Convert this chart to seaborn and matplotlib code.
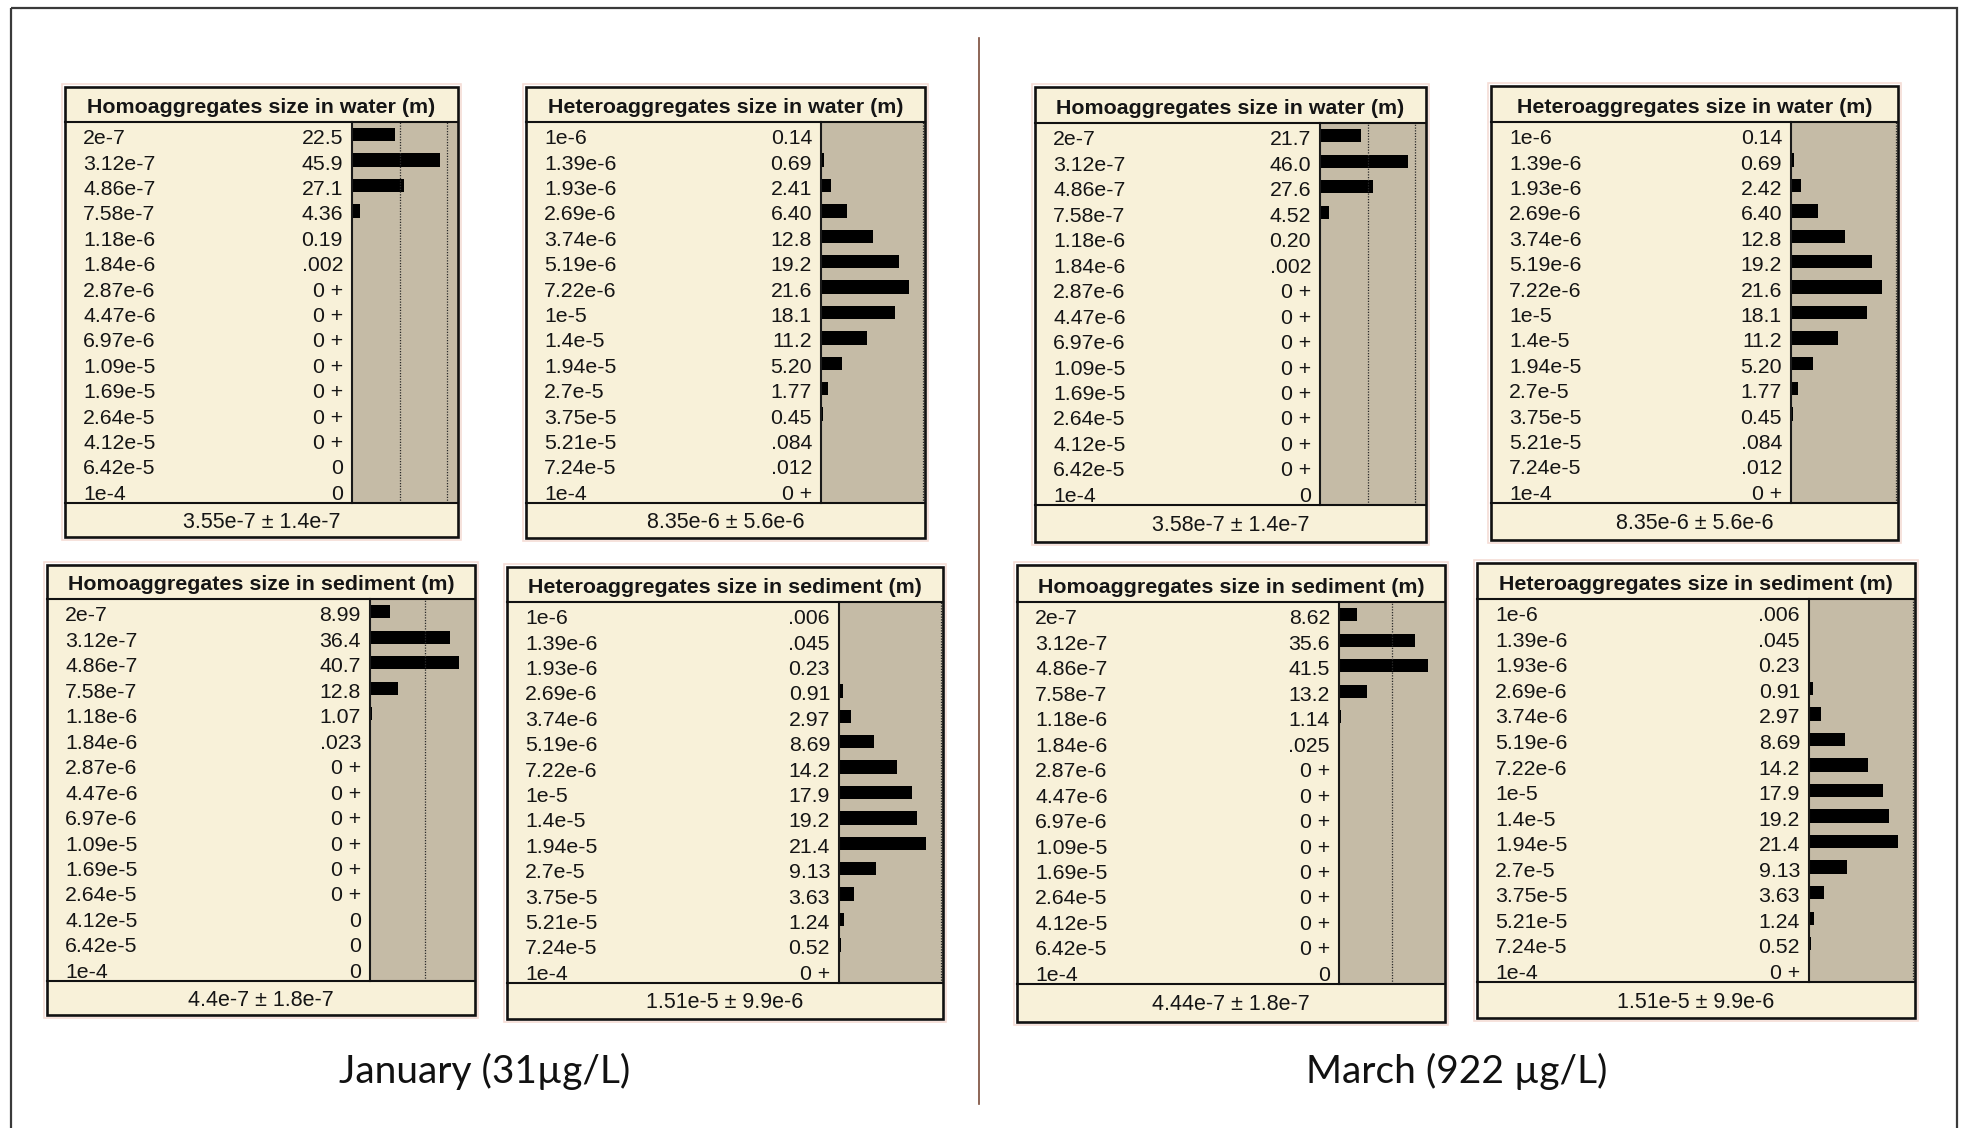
import matplotlib
matplotlib.use('Agg')
import matplotlib.pyplot as plt
import matplotlib.transforms as mtransforms
from matplotlib.patches import Rectangle
import seaborn as sns

W, H = 1963, 1128

# Netica node states (bin values, m)
homo_states = ['2e-7', '3.12e-7', '4.86e-7', '7.58e-7', '1.18e-6', '1.84e-6', '2.87e-6',
               '4.47e-6', '6.97e-6', '1.09e-5', '1.69e-5', '2.64e-5', '4.12e-5', '6.42e-5', '1e-4']
hetero_states = ['1e-6', '1.39e-6', '1.93e-6', '2.69e-6', '3.74e-6', '5.19e-6', '7.22e-6',
                 '1e-5', '1.4e-5', '1.94e-5', '2.7e-5', '3.75e-5', '5.21e-5', '7.24e-5', '1e-4']

T = 1e-4  # tiny belief, shown by Netica as "0 +"

# beliefs (%)
jan_homo_water = [22.5, 45.9, 27.1, 4.36, 0.19, 0.002, T, T, T, T, T, T, T, 0, 0]
jan_hetero_water = [0.14, 0.69, 2.41, 6.40, 12.8, 19.2, 21.6, 18.1, 11.2, 5.20, 1.77, 0.45, 0.084, 0.012, T]
jan_homo_sed = [8.99, 36.4, 40.7, 12.8, 1.07, 0.023, T, T, T, T, T, T, 0, 0, 0]
jan_hetero_sed = [0.006, 0.045, 0.23, 0.91, 2.97, 8.69, 14.2, 17.9, 19.2, 21.4, 9.13, 3.63, 1.24, 0.52, T]
mar_homo_water = [21.7, 46.0, 27.6, 4.52, 0.20, 0.002, T, T, T, T, T, T, T, T, 0]
mar_hetero_water = [0.14, 0.69, 2.42, 6.40, 12.8, 19.2, 21.6, 18.1, 11.2, 5.20, 1.77, 0.45, 0.084, 0.012, T]
mar_homo_sed = [8.62, 35.6, 41.5, 13.2, 1.14, 0.025, T, T, T, T, T, T, T, T, 0]
mar_hetero_sed = [0.006, 0.045, 0.23, 0.91, 2.97, 8.69, 14.2, 17.9, 19.2, 21.4, 9.13, 3.63, 1.24, 0.52, T]

titles = ['Homoaggregates size in water (m)', 'Heteroaggregates size in water (m)',
          'Homoaggregates size in sediment (m)', 'Heteroaggregates size in sediment (m)'] * 2
footers = ['3.55e-7 \u00b1 1.4e-7', '8.35e-6 \u00b1 5.6e-6', '4.4e-7 \u00b1 1.8e-7', '1.51e-5 \u00b1 9.9e-6',
           '3.58e-7 \u00b1 1.4e-7', '8.35e-6 \u00b1 5.6e-6', '4.44e-7 \u00b1 1.8e-7', '1.51e-5 \u00b1 9.9e-6']
captions = ['January (31\u00b5g/L)', 'March (922 \u00b5g/L)']

nodes = [
    (homo_states, jan_homo_water), (hetero_states, jan_hetero_water),
    (homo_states, jan_homo_sed), (hetero_states, jan_hetero_sed),
    (homo_states, mar_homo_water), (hetero_states, mar_hetero_water),
    (homo_states, mar_homo_sed), (hetero_states, mar_hetero_sed),
]

# box geometry in pixels: left, right, top, title line, rows bottom, bottom, bar area left, bar scale max
boxes = [
    (65, 458, 87, 122, 503, 537, 352, 55.5),
    (526, 925, 87, 122, 503, 538, 821, 25.5),
    (47, 475, 565, 599, 981, 1015, 370, 48.0),
    (507, 943, 567, 602, 983, 1019, 839, 25.5),
    (1035, 1426, 87, 123, 505, 542, 1320, 55.5),
    (1491, 1898, 86, 122, 503, 540, 1791, 25.5),
    (1017, 1445, 565, 602, 984, 1022, 1339, 49.6),
    (1477, 1915, 563, 599, 982, 1018, 1809, 25.5),
]

CREAM = '#F8F1D9'
TAUPE = '#C5BBA6'
INK = '#151515'


def fmt(p):
    if p == 0:
        return '0'
    if p < 0.0005:
        return '0 +'
    if p < 0.1:
        return f'{p:.3f}'[1:]
    if p < 10:
        return f'{p:.2f}'
    return f'{p:.1f}'


def fig_rect(x0, y0, x1, y1):
    return [x0 / W, 1 - y1 / H, (x1 - x0) / W, (y1 - y0) / H]


plt.rcParams['font.family'] = ['Liberation Sans', 'DejaVu Sans']

fig = plt.figure(figsize=(W / 100, H / 100), dpi=100)
fig.patch.set_facecolor('white')

bg = fig.add_axes([0, 0, 1, 1])
bg.set_xlim(0, W)
bg.set_ylim(H, 0)
bg.axis('off')

# outer frame and central divider
bg.add_patch(Rectangle((11, 8), 1946, 1300, fill=False, ec='#3a3a3a', lw=1.6))
bg.plot([979, 979], [38, 1104], color='#7a4b3a', lw=1.2)

for (states, vals), (L, R, Tp, S, B, F, BL, xmax), title, foot in zip(nodes, boxes, titles, footers):
    # faint reddish halo seen around the screenshot boxes
    bg.add_patch(Rectangle((L - 3, Tp - 3), R - L + 6, F - Tp + 6, fill=False, ec='#f5ddd6', lw=1.2))
    bg.add_patch(Rectangle((L, Tp), R - L, F - Tp, fc=CREAM, ec='none'))

    ax = fig.add_axes(fig_rect(BL, S, R, B))
    sns.barplot(x=vals, y=states, orient='h', color='black', saturation=1,
                width=0.52, linewidth=0, ax=ax)
    ax.set_facecolor(TAUPE)
    ax.set_xlim(0, xmax)
    ax.set_ylim(len(states) - 0.5, -0.5)
    for v in (25, 50):
        if v < xmax:
            ax.axvline(v, color='#2a2a2a', lw=0.9, ls=(0, (1, 1.2)))
    ax.set_xticks([])
    ax.set_yticks([])
    ax.set_xlabel('')
    ax.set_ylabel('')
    for side in ('top', 'right', 'bottom'):
        ax.spines[side].set_visible(False)
    ax.spines['left'].set_linewidth(1.5)
    ax.spines['left'].set_color('#1a1a1a')

    # state labels and belief values, placed on the bar axes' row scale
    trans = mtransforms.blended_transform_factory(bg.transData, ax.transData)
    trans = mtransforms.offset_copy(trans, fig=fig, y=-6.9, units='points')
    for i, (s, v) in enumerate(zip(states, vals)):
        bg.text(L + 18, i, s, transform=trans, ha='left', va='baseline',
                fontsize=15.3, color=INK)
        bg.text(BL - 9, i, fmt(v), transform=trans, ha='right', va='baseline',
                fontsize=15.3, color=INK)

    bg.text((L + R) / 2, S - 9, title, ha='center', va='baseline',
            fontsize=15.4, fontweight='bold', color=INK)
    bg.text((L + R) / 2, (B + F) / 2 + 7.5, foot, ha='center', va='baseline',
            fontsize=15.5, color=INK)

# borders drawn on top of the bar panels
top = fig.add_axes([0, 0, 1, 1])
top.set_xlim(0, W)
top.set_ylim(H, 0)
top.axis('off')
top.patch.set_alpha(0)
for (L, R, Tp, S, B, F, BL, xmax) in boxes:
    top.add_patch(Rectangle((L, Tp), R - L, F - Tp, fill=False, ec='#111111', lw=1.9))
    top.plot([L, R], [S, S], color='#111111', lw=1.5)
    top.plot([L, R], [B, B], color='#111111', lw=1.5)

bg.text(485, 1083, captions[0], ha='center', va='baseline', fontsize=28,
        family=['Lato', 'DejaVu Sans'], color='#111111')
bg.text(1457, 1083, captions[1], ha='center', va='baseline', fontsize=28,
        family=['Lato', 'DejaVu Sans'], color='#111111')

plt.savefig('out.png', dpi=100)
plt.close()
